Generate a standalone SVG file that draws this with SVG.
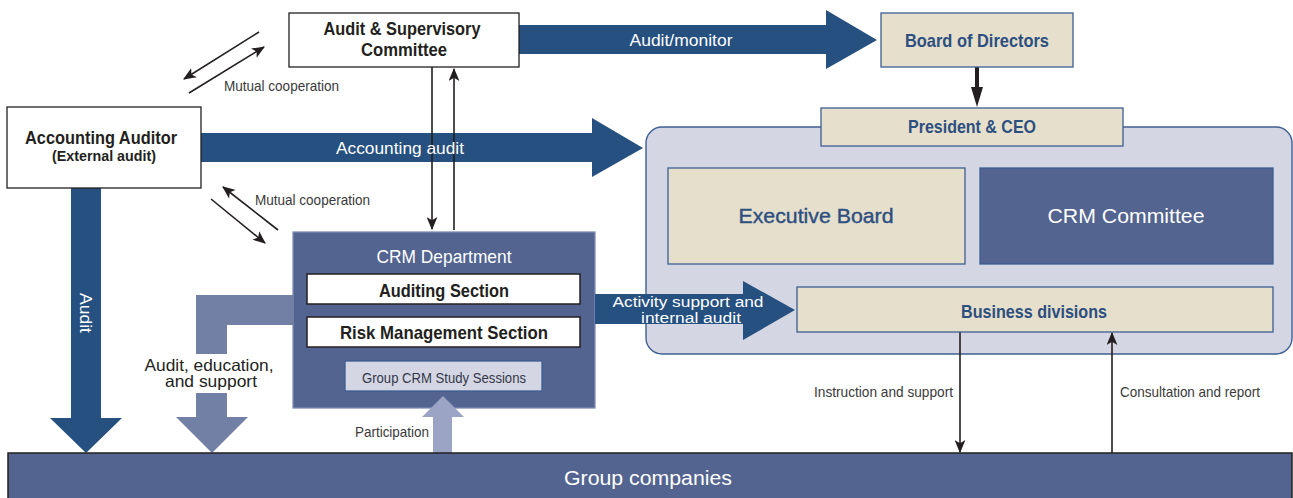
<svg xmlns="http://www.w3.org/2000/svg" width="1293" height="498" viewBox="0 0 1293 498">
<defs>
<style>
.nar{font-family:"Liberation Sans Narrow","Liberation Sans",Arial,sans-serif}
.reg{font-family:"Liberation Sans",Arial,sans-serif}
.b{font-weight:bold}
.blk{fill:#231f20}
.wht{fill:#ffffff}
.blu{fill:#2d4f80}
.lbl{fill:#3a3a3a}
.wbox{fill:#ffffff;stroke:#231f20;stroke-width:1.3}
.beige{fill:#e5dfcc;stroke:#3d5f93;stroke-width:1.3}
.dark{fill:#25507f}
.thin{stroke:#231f20;stroke-width:1.6;fill:none;marker-end:url(#ah)}
</style>
<marker id="ah" viewBox="0 0 12 10" refX="11" refY="5" markerWidth="13" markerHeight="11" markerUnits="userSpaceOnUse" orient="auto">
<path d="M0,0 L12,5 L0,10 L3,5 Z" fill="#231f20"/>
</marker>
</defs>
<rect width="1293" height="498" fill="#ffffff"/>

<g id="management">
<rect x="646" y="127" width="646" height="227" rx="16" fill="#d4d7e3" stroke="#3d5f93" stroke-width="1.4"/>
</g>

<g id="crm-department">
<rect x="293" y="232" width="302" height="176" fill="#52648f" stroke="#7e8db5" stroke-width="1.3"/>
<text class="nar wht" x="444" y="263" font-size="18.5" text-anchor="middle" textLength="135" lengthAdjust="spacingAndGlyphs">CRM Department</text>
<rect x="307" y="274" width="273" height="30" fill="#ffffff" stroke="#231f20" stroke-width="1.5"/>
<text class="nar b blk" x="444" y="297" font-size="19" text-anchor="middle" textLength="130" lengthAdjust="spacingAndGlyphs">Auditing Section</text>
<rect x="307" y="317" width="273" height="30" fill="#ffffff" stroke="#231f20" stroke-width="1.5"/>
<text class="nar b blk" x="444" y="339" font-size="19" text-anchor="middle" textLength="208" lengthAdjust="spacingAndGlyphs">Risk Management Section</text>
<rect x="345" y="361" width="197" height="30" fill="#d4d7e3" stroke="#3d5f93" stroke-width="1.3"/>
<text class="nar" x="444" y="383" font-size="15" text-anchor="middle" fill="#33364a" textLength="164" lengthAdjust="spacingAndGlyphs">Group CRM Study Sessions</text>
</g>

<g id="connectors">
<polygon class="dark" points="519,25 826,25 826,10 877,40 826,69 826,54 519,54"/>
<polygon class="dark" points="201,133 592,133 592,118 643,148 592,177 592,162 201,162"/>
<polygon class="dark" points="71,188 101,188 101,418 122,418 86,453 50,418 71,418"/>
<polygon class="dark" points="595,294 743,294 743,281 795,310 743,340 743,324 595,324"/>
<polygon fill="#7280a6" points="293,295 196,295 196,417 176,417 212,453 248,417 227,417 227,325 293,325"/>
<rect x="190" y="354" width="44" height="39" fill="#ffffff"/>
<polygon fill="#9ba4c4" points="433,453 433,417 422,417 443,396 464,417 452,417 452,453"/>
<line class="thin" x1="259" y1="32" x2="184" y2="79"/>
<line class="thin" x1="189" y1="93" x2="264" y2="47"/>
<line class="thin" x1="278" y1="230" x2="223" y2="187"/>
<line class="thin" x1="211" y1="199" x2="265" y2="243"/>
<line class="thin" x1="432" y1="67" x2="432" y2="229"/>
<line class="thin" x1="454" y1="230" x2="454" y2="69"/>
<line class="thin" x1="960" y1="332" x2="960" y2="452"/>
<line class="thin" x1="1112" y1="453" x2="1112" y2="333"/>
<line x1="977" y1="67" x2="977" y2="90" stroke="#231f20" stroke-width="4"/>
<polygon points="971,87 983,87 977,107" fill="#231f20"/>
<text class="reg wht" x="681" y="46" font-size="17" text-anchor="middle" textLength="103" lengthAdjust="spacingAndGlyphs">Audit/monitor</text>
<text class="reg wht" x="400" y="154" font-size="17" text-anchor="middle" textLength="128" lengthAdjust="spacingAndGlyphs">Accounting audit</text>
<text class="reg wht" x="688" y="307" font-size="15.5" text-anchor="middle" textLength="151" lengthAdjust="spacingAndGlyphs">Activity support and</text>
<text class="reg wht" x="691" y="323" font-size="15.5" text-anchor="middle" textLength="100" lengthAdjust="spacingAndGlyphs">internal audit</text>
<text class="reg wht" font-size="17" text-anchor="middle" transform="translate(86,313) rotate(90)" y="6" textLength="40" lengthAdjust="spacingAndGlyphs">Audit</text>
<text class="nar lbl" x="224" y="91" font-size="15" textLength="115" lengthAdjust="spacingAndGlyphs">Mutual cooperation</text>
<text class="nar lbl" x="255" y="205" font-size="15" textLength="115" lengthAdjust="spacingAndGlyphs">Mutual cooperation</text>
<text class="reg blk" x="209" y="371" font-size="16.5" text-anchor="middle" textLength="129" lengthAdjust="spacingAndGlyphs">Audit, education,</text>
<text class="reg blk" x="211" y="387" font-size="16.5" text-anchor="middle" textLength="92" lengthAdjust="spacingAndGlyphs">and support</text>
<text class="nar lbl" x="429" y="437" font-size="15" text-anchor="end" textLength="74" lengthAdjust="spacingAndGlyphs">Participation</text>
<text class="nar lbl" x="814" y="397" font-size="15" textLength="139" lengthAdjust="spacingAndGlyphs">Instruction and support</text>
<text class="nar lbl" x="1120" y="397" font-size="15" textLength="140" lengthAdjust="spacingAndGlyphs">Consultation and report</text>
</g>

<g id="audit-supervisory-committee">
<rect class="wbox" x="289" y="13" width="230" height="54"/>
<text class="nar b blk" x="402" y="35" font-size="18.5" text-anchor="middle" textLength="157" lengthAdjust="spacingAndGlyphs">Audit &amp; Supervisory</text>
<text class="nar b blk" x="404" y="56" font-size="18.5" text-anchor="middle" textLength="86" lengthAdjust="spacingAndGlyphs">Committee</text>
</g>

<g id="accounting-auditor">
<rect class="wbox" x="7" y="107" width="194" height="81"/>
<text class="nar b blk" x="101" y="144" font-size="18.5" text-anchor="middle" textLength="152" lengthAdjust="spacingAndGlyphs">Accounting Auditor</text>
<text class="nar b blk" x="104" y="161" font-size="15" text-anchor="middle" textLength="104" lengthAdjust="spacingAndGlyphs">(External audit)</text>
</g>

<g id="board-of-directors">
<rect class="beige" x="881" y="13" width="192" height="54"/>
<text class="nar b blu" x="977" y="47" font-size="18.5" text-anchor="middle" textLength="144" lengthAdjust="spacingAndGlyphs">Board of Directors</text>
</g>

<g id="president-ceo">
<rect class="beige" x="821" y="108" width="302" height="38"/>
<text class="nar b blu" x="972" y="133" font-size="18.5" text-anchor="middle" textLength="128" lengthAdjust="spacingAndGlyphs">President &amp; CEO</text>
</g>

<g id="executive-board">
<rect class="beige" x="668" y="168" width="297" height="96"/>
<text class="reg blu" x="816" y="223" font-size="21" text-anchor="middle" textLength="155" lengthAdjust="spacingAndGlyphs" stroke="#2d4f80" stroke-width="0.4">Executive Board</text>
</g>

<g id="crm-committee">
<rect x="980" y="168" width="293" height="96" fill="#52648f" stroke="#3d5f93" stroke-width="1.3"/>
<text class="reg wht" x="1126" y="223" font-size="21" text-anchor="middle" textLength="157" lengthAdjust="spacingAndGlyphs">CRM Committee</text>
</g>

<g id="business-divisions">
<rect class="beige" x="797" y="287" width="476" height="45"/>
<text class="nar b blu" x="1034" y="318" font-size="18.5" text-anchor="middle" textLength="146" lengthAdjust="spacingAndGlyphs">Business divisions</text>
</g>

<g id="group-companies">
<rect x="8" y="453" width="1284" height="50" fill="#52648f" stroke="#231f20" stroke-width="1.5"/>
<text class="reg wht" x="648" y="485" font-size="20" text-anchor="middle" textLength="168" lengthAdjust="spacingAndGlyphs">Group companies</text>
</g>
</svg>
